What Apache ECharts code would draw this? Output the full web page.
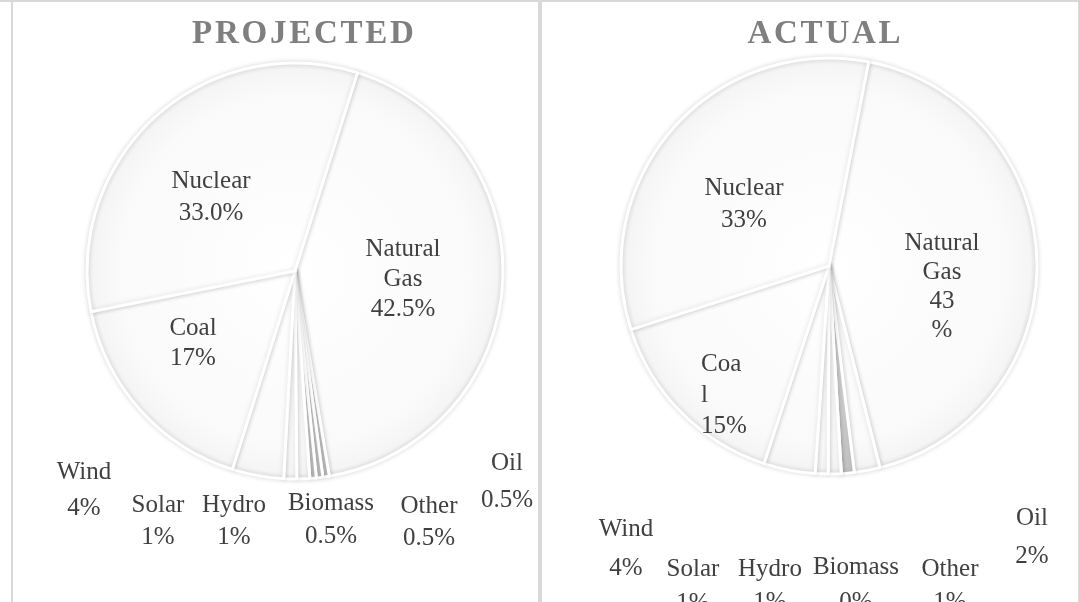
<!DOCTYPE html>
<html>
<head>
<meta charset="utf-8">
<script src="https://cdn.jsdelivr.net/npm/echarts@6/dist/echarts.min.js"></script>
<style>
html,body{margin:0;padding:0;background:#ffffff;}
#c{width:1079px;height:602px;}
</style>
</head>
<body>
<div id="c"></div>
<script>
// ---- data ----
const categories = ['Natural Gas', 'Oil', 'Other', 'Biomass', 'Hydro', 'Solar', 'Wind', 'Coal', 'Nuclear'];
const projectedValues = [42.5, 0.5, 0.5, 0.5, 1, 1, 4, 17, 33];
const actualValues = [43, 2, 1, 0, 1, 1, 4, 15, 33];
const projectedLabels = ['Natural\nGas\n42.5%', 'Oil\n0.5%', 'Other\n0.5%', 'Biomass\n0.5%', 'Hydro\n1%', 'Solar\n1%', 'Wind\n4%', 'Coal\n17%', 'Nuclear\n33.0%'];
const actualLabels = ['Natural\nGas\n43\n%', 'Oil\n2%', 'Other\n1%', 'Biomass\n0%', 'Hydro\n1%', 'Solar\n1%', 'Wind\n4%', 'Coa\nl\n15%', 'Nuclear\n33%'];
const titles = ['PROJECTED', 'ACTUAL'];

// ---- layout (label spots: x, y, lineHeight, align) ----
const projectedSpots = [[403, 279, 30], [507, 482, 37], [429, 522, 32], [331, 520, 33], [234, 521, 32], [158, 521, 32], [84, 490, 36], [193, 343, 30], [211, 197, 32]];
const actualSpots = [[942, 287, 29], [1032, 537, 38], [950, 586, 33], [856, 585, 35], [770, 586, 33], [693, 586, 34], [626, 549, 39], [701, 395, 31, 'left'], [744, 204, 32]];
const R = 208;
const leftCenter = [295, 271];
const rightCenter = [829, 266];
const shadedNames = ['Oil', 'Other', 'Biomass'];
const FONT = '"Liberation Serif", "Times New Roman", serif';

function fillGrad(c) {
  return {type: 'radial', x: c[0], y: c[1], r: R, global: true,
    colorStops: [{offset: 0, color: '#ffffff'}, {offset: 0.85, color: '#fafafa'}, {offset: 0.97, color: '#f5f5f5'}, {offset: 1, color: '#ebebeb'}]};
}
function shadeGrad(c) {
  return {type: 'radial', x: c[0], y: c[1], r: R, global: true,
    colorStops: [{offset: 0, color: '#e8e8e8'}, {offset: 0.6, color: '#d6d6d6'}, {offset: 1, color: '#c2c2c2'}]};
}

function makeSeries(values, labels, spots, center, startAngle) {
  return {
    type: 'pie',
    center: center,
    radius: R,
    startAngle: startAngle,
    clockwise: true,
    silent: true,
    animation: false,
    avoidLabelOverlap: false,
    minAngle: 0,
    label: {
      show: true, position: 'outside', color: '#404040',
      fontFamily: FONT, fontSize: 25,
      formatter: function (p) { return labels[p.dataIndex]; }
    },
    labelLine: {show: false},
    labelLayout: function (p) {
      const s = spots[p.dataIndex];
      return {x: s[0], y: s[1], align: s[3] || 'center', verticalAlign: 'middle', hideOverlap: false, moveOverlap: null};
    },
    itemStyle: {color: fillGrad(center), borderColor: '#ffffff', borderWidth: 3,
      shadowBlur: 5, shadowColor: 'rgba(0,0,0,0.13)'},
    emphasis: {disabled: true},
    data: categories.map(function (name, i) {
      const item = {name: name, value: values[i], label: {lineHeight: spots[i][2], align: spots[i][3] || 'center'}};
      if (shadedNames.indexOf(name) >= 0 && values[i] <= 1) item.itemStyle = {color: shadeGrad(center)};
      return item;
    })
  };
}

function spaced(t) { return t.split('').join('\u200a'); }

const chart = echarts.init(document.getElementById('c'), null, {renderer: 'canvas'});
chart.setOption({
  backgroundColor: '#ffffff',
  animation: false,
  title: [
    {text: spaced(titles[0]), left: 303, top: 18, textAlign: 'center', padding: 0,
      textStyle: {fontFamily: FONT, fontWeight: 'bold', fontSize: 33, color: '#7f7f7f'}},
    {text: spaced(titles[1]), left: 824, top: 18, textAlign: 'center', padding: 0,
      textStyle: {fontFamily: FONT, fontWeight: 'bold', fontSize: 33, color: '#7f7f7f'}}
  ],
  graphic: [
    {type: 'rect', silent: true, shape: {x: 0, y: 0, width: 1079, height: 2}, style: {fill: '#d9d9d9'}},
    {type: 'rect', silent: true, shape: {x: 11, y: 0, width: 2, height: 602}, style: {fill: '#d9d9d9'}},
    {type: 'rect', silent: true, shape: {x: 538, y: 0, width: 4, height: 602}, style: {fill: '#d9d9d9'}},
    {type: 'rect', silent: true, shape: {x: 1078, y: 0, width: 1, height: 602}, style: {fill: '#d9d9d9'}}
  ],
  series: [
    makeSeries(projectedValues, projectedLabels, projectedSpots, leftCenter, 72.5),
    makeSeries(actualValues, actualLabels, actualSpots, rightCenter, 79)
  ]
});
</script>
</body>
</html>
